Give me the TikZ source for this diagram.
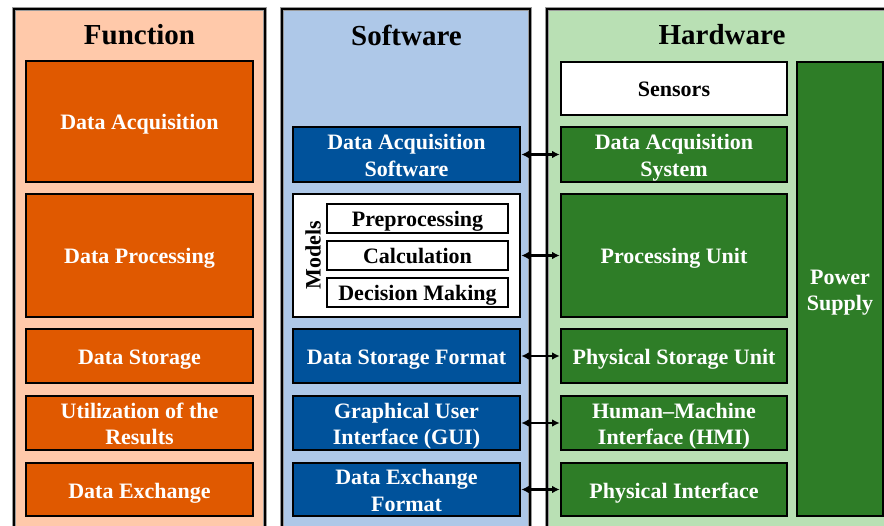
\documentclass[tikz,border=0pt]{standalone}
\usepackage{fontspec}
\setmainfont{Liberation Serif}
\usetikzlibrary{arrows.meta}
\definecolor{fpanel}{RGB}{255,201,170}
\definecolor{spanel}{RGB}{174,200,232}
\definecolor{hpanel}{RGB}{185,224,180}
\definecolor{fboxc}{RGB}{224,89,0}
\definecolor{sboxc}{RGB}{0,82,155}
\definecolor{hboxc}{RGB}{46,125,39}
\tikzset{
  panel/.style={draw=black, line width=2pt},
  panelhalo/.style={draw=black!40, line width=3.6pt},
  heading/.style={font=\fontsize{29}{32}\selectfont\bfseries, text=black},
  basebox/.style={draw=black, line width=2.6pt, inner sep=0pt, align=center,
    font=\fontsize{22}{26.5}\selectfont\bfseries, text height=17pt, text depth=0pt},
  twolines/.style={text height=43.5pt, text depth=0pt},
  fbox/.style={basebox, fill=fboxc, text=white, minimum width=227pt},
  sbox/.style={basebox, fill=sboxc, text=white, minimum width=227pt},
  hbox/.style={basebox, fill=hboxc, text=white, minimum width=226pt},
  wbox/.style={basebox, fill=white, text=black},
  mbox/.style={basebox, fill=white, text=black, line width=2.2pt,
    minimum width=181pt, minimum height=29pt, text height=16pt},
  link/.style={line width=2.4pt, {Latex[length=7.5pt,width=7.5pt]}-{Latex[length=7.5pt,width=7.5pt]}}
}
\begin{document}
\begin{tikzpicture}[x=1pt, y=-1pt]
\useasboundingbox (0,0) rectangle (884,526);
\clip (0,0) rectangle (884,526);
% three column panels
\foreach \xa/\xb/\c in {14/265/fpanel, 282/530/spanel, 547/900/hpanel}{
  \fill[\c] (\xa,9) rectangle (\xb,560);
  \draw[panelhalo] (\xa,9) rectangle (\xb,560);
  \draw[panel] (\xa,9) rectangle (\xb,560);
}
\node[heading] (hf) at (139.5,35) {Function};
\node[heading] (hs) at (406.5,35) {Software};
\node[heading] (hh) at (722,35) {Hardware};

% function column
\node[fbox, minimum height=121pt] (fa) at (139.5,121.5) {Data Acquisition};
\node[fbox, minimum height=123pt] (fp) at (139.5,255.5) {Data Processing};
\node[fbox, minimum height=54pt] (fs) at (139.5,356) {Data Storage};
\node[fbox, twolines, minimum height=54pt] (fu) at (139.5,423) {Utilization of the\\Results};
\node[fbox, minimum height=53pt] (fe) at (139.5,489.5) {Data Exchange};

% software column
\node[sbox, twolines, minimum height=55pt] (sa) at (406.5,154.5) {Data Acquisition\\Software};
\node[wbox, minimum width=227pt, minimum height=123pt] (sm) at (406.5,255.5) {};
\node[mbox] (pre) at (417.5,218.5) {Preprocessing};
\node[mbox] (cal) at (417.5,255.5) {Calculation};
\node[mbox] (dec) at (417.5,292.5) {Decision Making};
\node[font=\fontsize{22}{26}\selectfont\bfseries, rotate=90, inner sep=0pt] (mod) at (313,255.5) {Models};
\node[sbox, minimum height=54pt] (ss) at (406.5,356) {Data Storage Format};
\node[sbox, twolines, minimum height=54pt] (sg) at (406.5,423) {Graphical User\\Interface (GUI)};
\node[sbox, twolines, minimum height=53pt] (se) at (406.5,489.5) {Data Exchange\\Format};

% hardware column
\node[wbox, minimum width=226pt, minimum height=53pt] (sen) at (674,88.5) {Sensors};
\node[hbox, twolines, minimum height=55pt] (ha) at (674,154.5) {Data Acquisition\\System};
\node[hbox, minimum height=123pt] (hp) at (674,255.5) {Processing Unit};
\node[hbox, minimum height=54pt] (hs) at (674,356) {Physical Storage Unit};
\node[hbox, twolines, minimum height=54pt] (hm) at (674,423) {Human–Machine\\Interface (HMI)};
\node[hbox, minimum height=53pt] (hi) at (674,489.5) {Physical Interface};
\node[basebox, twolines, fill=hboxc, text=white, minimum width=86pt, minimum height=454pt] (pw) at (840,289) {Power\\Supply};

% software-hardware links
\draw[link] (sa.east) -- (ha.west);
\draw[link] (sm.east) -- (hp.west);
\draw[link] (ss.east) -- (hs.west);
\draw[link] (sg.east) -- (hm.west);
\draw[link] (se.east) -- (hi.west);
\end{tikzpicture}
\end{document}
